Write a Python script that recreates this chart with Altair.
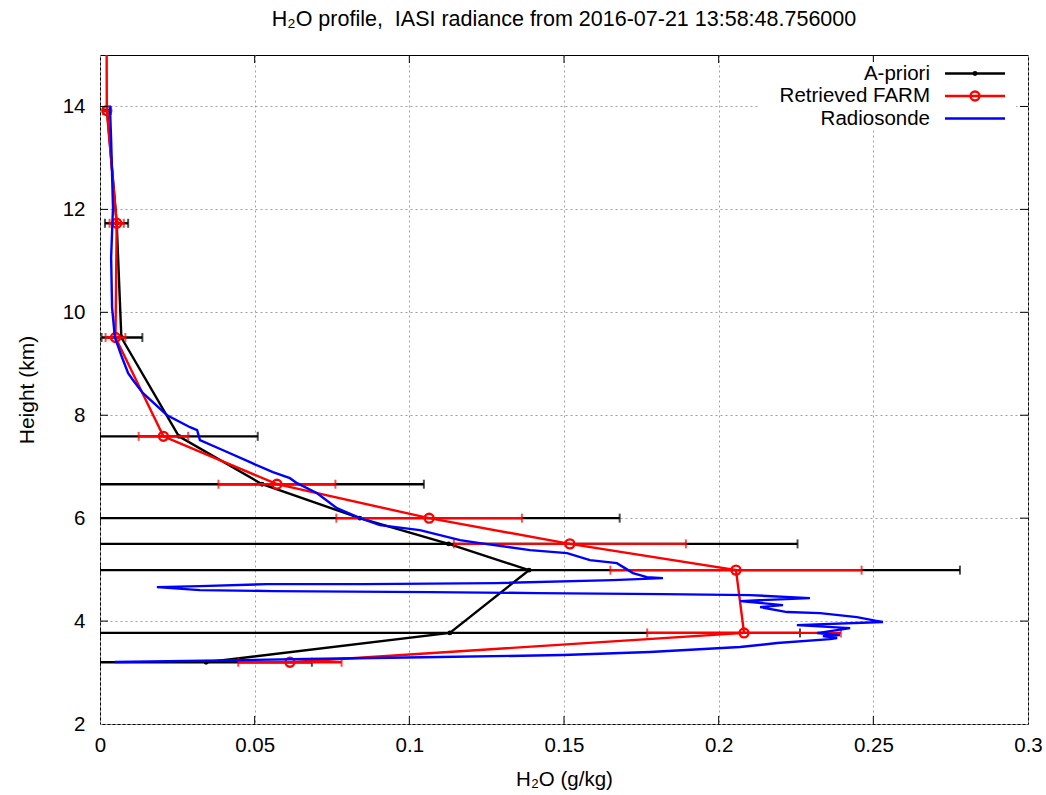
import altair as alt
import pandas as pd

FONT = "Liberation Sans"

# Retrieval levels (km)
levels_km = [3.20, 3.77, 4.99, 5.50, 6.00, 6.66, 7.59, 9.51, 11.73, 13.92]

# A-priori profile (g/kg) and its uncertainty range
apriori_h2o = [0.0343, 0.1131, 0.1387, 0.1127, 0.0840, 0.0524, 0.0255, 0.0069, 0.0054, 0.0023]
apriori_lo = [0.0, 0.0, 0.0, 0.0, 0.0, 0.0, 0.0, 0.0005, 0.0016, 0.0012]
apriori_hi = [0.0685, 0.2263, 0.2780, 0.2255, 0.1680, 0.1047, 0.0510, 0.0137, 0.0091, 0.0034]

# Retrieved FARM profile (g/kg) with +/- error; last level lies above the plotted range
retrieved_km = levels_km + [16.0]
retrieved_h2o = [0.0614, 0.2082, 0.2056, 0.1519, 0.1064, 0.0572, 0.0205, 0.0050, 0.0054, 0.0022, 0.0021]
retrieved_err = [0.0167, 0.0313, 0.0406, 0.0375, 0.0300, 0.0189, 0.0080, 0.0032, 0.0023, 0.0012, 0.0012]

# Radiosonde sounding, in ascent order
sonde_km = [3.204, 3.262, 3.301, 3.340, 3.398, 3.495, 3.573, 3.650, 3.670, 3.709,
            3.728, 3.767, 3.864, 3.922, 3.981, 4.078, 4.155, 4.175, 4.272, 4.311,
            4.388, 4.447, 4.505, 4.524, 4.544, 4.563, 4.583, 4.602, 4.660, 4.680,
            4.718, 4.718, 4.738, 4.796, 4.835, 4.854, 4.932, 5.029, 5.126, 5.184,
            5.320, 5.379, 5.515, 5.573, 5.767, 5.864, 6.000, 6.194, 6.485, 6.680,
            6.777, 6.893, 7.087, 7.320, 7.515, 7.709, 7.767, 8.000, 8.427, 8.680,
            8.816, 9.126, 9.515, 10.097, 11.068, 12.039, 13.340, 14.019]
sonde_h2o = [0.0048, 0.0669, 0.1099, 0.1497, 0.1778, 0.2069, 0.2189, 0.2360, 0.2383, 0.2337,
             0.2392, 0.2318, 0.2425, 0.2253, 0.2531, 0.2447, 0.2328, 0.2221, 0.2134, 0.2208,
             0.2069, 0.2295, 0.2101, 0.1820, 0.1413, 0.1067, 0.0559, 0.0323, 0.0184, 0.0323,
             0.0540, 0.0850, 0.1283, 0.1658, 0.1820, 0.1768, 0.1723, 0.1697, 0.1671, 0.1584,
             0.1510, 0.1390, 0.1228, 0.1164, 0.1034, 0.0905, 0.0841, 0.0766, 0.0702, 0.0637,
             0.0614, 0.0559, 0.0485, 0.0398, 0.0323, 0.0314, 0.0291, 0.0217, 0.0139, 0.0107,
             0.0091, 0.0071, 0.0048, 0.0039, 0.0036, 0.0042, 0.0036, 0.0032]

x_ticks = [0, 0.05, 0.1, 0.15, 0.2, 0.25, 0.3]
y_ticks = [2, 4, 6, 8, 10, 12, 14]

legend_labels = ["A-priori", "Retrieved FARM", "Radiosonde"]
legend_colors = ["#000000", "#ff0000", "#0000ff"]

W, H = 928, 669
FS = 20.5
LW = 2.4

apriori = pd.DataFrame({"km": levels_km, "h2o": apriori_h2o, "lo": apriori_lo,
                        "hi": apriori_hi, "i": list(range(len(levels_km)))})
retrieved = pd.DataFrame({"km": retrieved_km, "h2o": retrieved_h2o,
                          "lo": [v - e for v, e in zip(retrieved_h2o, retrieved_err)],
                          "hi": [v + e for v, e in zip(retrieved_h2o, retrieved_err)],
                          "i": list(range(len(retrieved_km)))})
sonde = pd.DataFrame({"km": sonde_km, "h2o": sonde_h2o, "i": list(range(len(sonde_km)))})

xs = alt.Scale(domain=[0, 0.3], nice=False, zero=False)
ys = alt.Scale(domain=[2, 15], nice=False, zero=False)

xax = alt.Axis(values=x_ticks, format="~g", title="H\u2082O (g/kg)", grid=True,
               gridColor="#a0a0a0", gridDash=[2, 3], gridWidth=1, domain=False,
               ticks=False, labelPadding=11, labelFlush=False, labelOverlap=False,
               labelFont=FONT, labelFontSize=FS, labelColor="black",
               titleFont=FONT, titleFontSize=FS, titleFontWeight="normal", titleColor="black",
               titleX=W / 2, titleY=55, titleAlign="center", titleBaseline="middle")
yax = alt.Axis(values=y_ticks, format="~g", title="Height (km)", grid=True,
               gridColor="#a0a0a0", gridDash=[2, 3], gridWidth=1, domain=False,
               ticks=False, labelPadding=15, labelFlush=False, labelOverlap=False,
               labelFont=FONT, labelFontSize=FS, labelColor="black",
               titleFont=FONT, titleFontSize=21, titleFontWeight="normal", titleColor="black",
               titleX=-73, titleY=H / 2, titleAlign="center", titleBaseline="middle",
               titleAngle=270)


def X(field):
    return alt.X(field, type="quantitative", scale=xs, axis=xax)


def Y(field):
    return alt.Y(field, type="quantitative", scale=ys, axis=yax)


layers = []

# a-priori: error bars, caps, profile line and dots
layers.append(alt.Chart(apriori).mark_rule(color="black", strokeWidth=LW, clip=True)
              .encode(y=Y("km"), x=X("lo"), x2="hi"))
for f in ["lo", "hi"]:
    layers.append(alt.Chart(apriori).mark_tick(color="black", orient="vertical", size=9,
                                               thickness=2, clip=True)
                  .encode(y=Y("km"), x=X(f)))
layers.append(alt.Chart(apriori).mark_line(color="black", strokeWidth=LW, clip=True)
              .encode(y=Y("km"), x=X("h2o"), order="i:Q"))
layers.append(alt.Chart(apriori).mark_point(color="black", filled=True, size=24,
                                            opacity=1, clip=True)
              .encode(y=Y("km"), x=X("h2o")))

# retrieved: error bars, caps, profile line and open circles
layers.append(alt.Chart(retrieved).mark_rule(color="#ff0000", strokeWidth=LW, clip=True)
              .encode(y=Y("km"), x=X("lo"), x2="hi"))
for f in ["lo", "hi"]:
    layers.append(alt.Chart(retrieved).mark_tick(color="#ff0000", orient="vertical", size=9,
                                                 thickness=2, clip=True)
                  .encode(y=Y("km"), x=X(f)))
layers.append(alt.Chart(retrieved).mark_line(color="#ff0000", strokeWidth=LW, clip=True)
              .encode(y=Y("km"), x=X("h2o"), order="i:Q"))
layers.append(alt.Chart(retrieved).mark_point(color="#ff0000", filled=False, size=80,
                                              strokeWidth=2.4, opacity=1, clip=True)
              .encode(y=Y("km"), x=X("h2o")))

# radiosonde
layers.append(alt.Chart(sonde).mark_line(color="#0000ff", strokeWidth=LW, clip=True)
              .encode(y=Y("km"), x=X("h2o"), order="i:Q"))

# inward tick marks on all four sides
xt = pd.DataFrame({"v": x_ticks[1:-1]})
yt = pd.DataFrame({"v": y_ticks[1:]})
layers.append(alt.Chart(xt).mark_rule(color="black", strokeWidth=1)
              .encode(x=X("v"), y=alt.value(H), y2=alt.value(H - 8)))
layers.append(alt.Chart(xt).mark_rule(color="black", strokeWidth=1)
              .encode(x=X("v"), y=alt.value(0), y2=alt.value(8)))
layers.append(alt.Chart(yt).mark_rule(color="black", strokeWidth=1)
              .encode(y=Y("v"), x=alt.value(0), x2=alt.value(8)))
layers.append(alt.Chart(yt).mark_rule(color="black", strokeWidth=1)
              .encode(y=Y("v"), x=alt.value(W), x2=alt.value(W - 8)))

# key box in the upper right corner
one = pd.DataFrame({"k": [0]})
layers.append(alt.Chart(one).mark_rect(color="white")
              .encode(x=alt.value(660), x2=alt.value(916), y=alt.value(7), y2=alt.value(75)))
for n, (lab, col) in enumerate(zip(legend_labels, legend_colors)):
    ky = 18.5 + 22.5 * n
    layers.append(alt.Chart(pd.DataFrame({"t": [lab]}))
                  .mark_text(align="right", baseline="middle", font=FONT, fontSize=FS,
                             color="black")
                  .encode(text="t:N", x=alt.value(830), y=alt.value(ky)))
    layers.append(alt.Chart(one).mark_rule(color=col, strokeWidth=LW)
                  .encode(x=alt.value(845), x2=alt.value(905), y=alt.value(ky)))
layers.append(alt.Chart(one).mark_point(color="black", filled=True, size=24, opacity=1)
              .encode(x=alt.value(875), y=alt.value(18.5)))
layers.append(alt.Chart(one).mark_point(color="#ff0000", filled=False, size=80,
                                        strokeWidth=2.4, opacity=1)
              .encode(x=alt.value(875), y=alt.value(18.5 + 22.5)))

chart = (
    alt.layer(*layers)
    .properties(
        width=W, height=H,
        title=alt.TitleParams(
            "H\u2082O profile, \u00a0IASI radiance from 2016-07-21 13:58:48.756000",
            anchor="middle", font=FONT, fontSize=21.5, fontWeight="normal",
            color="black", offset=24),
        autosize=alt.AutoSizeParams(type="none"),
        padding={"left": 100, "top": 55, "right": 18, "bottom": 71},
        background="white",
    )
    .configure_view(stroke="black", strokeWidth=1)
)

chart.save("out.html", embed_options={"renderer": "svg", "actions": False})
